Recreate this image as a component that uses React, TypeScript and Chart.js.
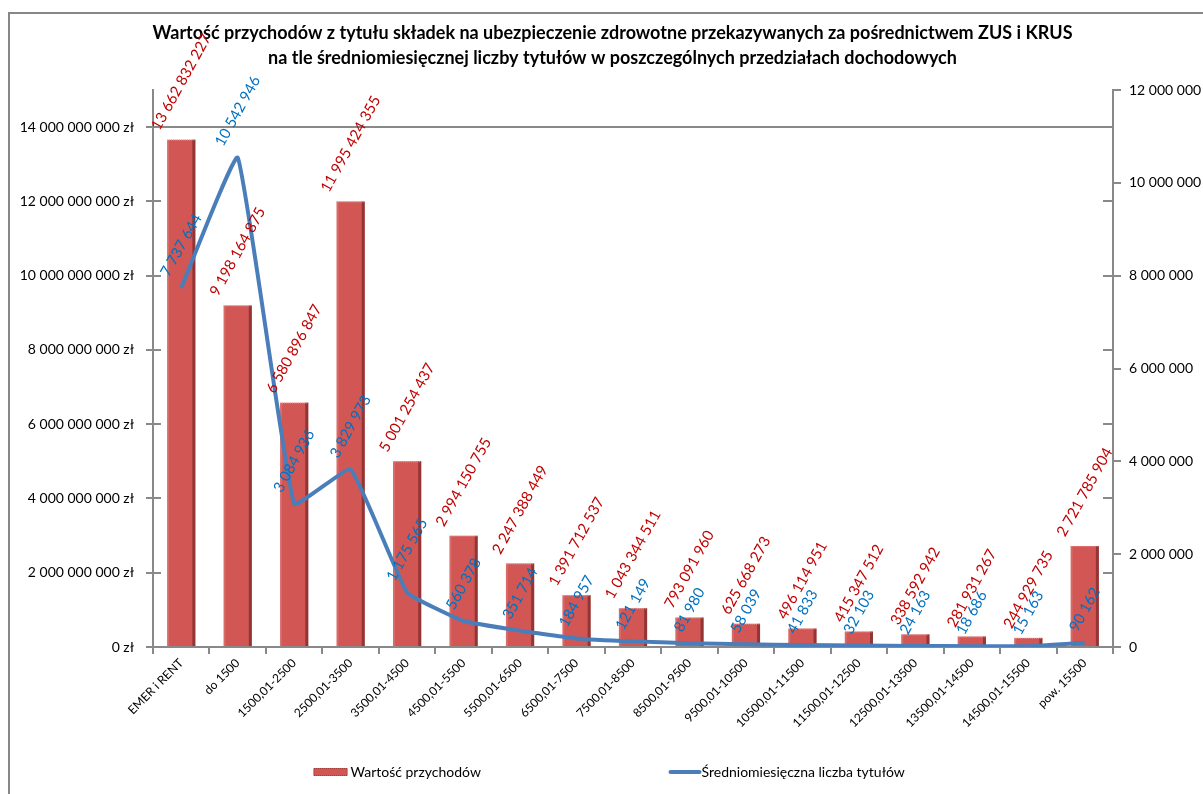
import React, { useEffect, useRef } from "react";
import { Chart, registerables } from "chart.js";

Chart.register(...registerables);

const titleLines = [
  "Wartość przychodów z tytułu składek na ubezpieczenie zdrowotne przekazywanych za pośrednictwem ZUS i KRUS",
  "na tle średniomiesięcznej liczby tytułów w poszczególnych przedziałach dochodowych",
];

const categories = [
  "EMER i RENT",
  "do 1500",
  "1500,01-2500",
  "2500,01-3500",
  "3500,01-4500",
  "4500,01-5500",
  "5500,01-6500",
  "6500,01-7500",
  "7500,01-8500",
  "8500,01-9500",
  "9500,01-10500",
  "10500,01-11500",
  "11500,01-12500",
  "12500,01-13500",
  "13500,01-14500",
  "14500,01-15500",
  "pow. 15500",
];

const revenue = [
  13662832227, 9198164875, 6580896847, 11995424355, 5001254437, 2994150755, 2247388449,
  1391712537, 1043344511, 793091960, 625668273, 496114951, 415347512, 338592942, 281931267,
  244929735, 2721785904,
];

const titlesCount = [
  7737644, 10542946, 3084936, 3829973, 1175565, 560378, 351714, 184957, 121149, 81980, 58039,
  41833, 32103, 24163, 18686, 15163, 90162,
];

const legendLabels = ["Wartość przychodów", "Średniomiesięczna liczba tytułów"];

const leftMax = 15000000000;
const leftStep = 2000000000;
const leftGridValue = 14000000000;
const rightMax = 12000000;
const rightStep = 2000000;

const FONT = "Lato, 'Noto Sans', sans-serif";
const AXIS_COLOR = "#898989";
const BAR_COLOR = "#D25754";
const LINE_COLOR = "#4A7EBB";
const RED_LABEL = "#C00000";
const BLUE_LABEL = "#0070C0";

const fmt = (v: number) => Math.round(v).toString().replace(/\B(?=(\d{3})+(?!\d))/g, " ");

const axisDecor = {
  id: "axisDecor",
  beforeDatasetsDraw(chart: any) {
    const ctx = chart.ctx;
    const { left, right } = chart.chartArea;
    const ys = chart.scales.y;
    ctx.save();
    ctx.strokeStyle = AXIS_COLOR;
    ctx.lineWidth = 2;
    ys.ticks.forEach((t: any) => {
      const py = Math.round(ys.getPixelForValue(t.value));
      ctx.beginPath();
      ctx.moveTo(left, py);
      ctx.lineTo(left + 8, py);
      ctx.moveTo(right - 10, py);
      ctx.lineTo(right, py);
      ctx.stroke();
    });
    ctx.restore();
  },
};

const barShade = {
  id: "barShade",
  afterDatasetDraw(chart: any, args: any) {
    if (args.index !== 0) return;
    const ctx = chart.ctx;
    ctx.save();
    args.meta.data.forEach((el: any) => {
      const r = el.x + el.width / 2;
      const l = el.x - el.width / 2;
      const h = el.base - el.y;
      ctx.fillStyle = "rgba(95,25,25,0.55)";
      ctx.fillRect(r - 3, el.y, 3, h);
      ctx.fillStyle = "rgba(255,255,255,0.12)";
      ctx.fillRect(l, el.y, 2, h);
      ctx.strokeStyle = "rgba(230,150,150,0.9)";
      ctx.setLineDash([1, 1]);
      ctx.lineWidth = 1;
      ctx.beginPath();
      ctx.moveTo(l, el.y + 0.5);
      ctx.lineTo(r, el.y + 0.5);
      ctx.stroke();
    });
    ctx.restore();
  },
};

const valueLabels = {
  id: "valueLabels",
  afterDatasetsDraw(chart: any) {
    const ctx = chart.ctx;
    const ang = (61 * Math.PI) / 180;
    const draw = (dsIndex: number, values: number[], color: string, gap: number) => {
      const meta = chart.getDatasetMeta(dsIndex);
      meta.data.forEach((el: any, i: number) => {
        const text = fmt(values[i]);
        ctx.save();
        ctx.font = `15px ${FONT}`;
        const w = ctx.measureText(text).width;
        const h = 11;
        const boxH = w * Math.sin(ang) + h * Math.cos(ang);
        const cy = el.y - gap - boxH / 2;
        ctx.translate(el.x, cy);
        ctx.rotate(-ang);
        ctx.fillStyle = color;
        ctx.textAlign = "center";
        ctx.textBaseline = "middle";
        ctx.fillText(text, 0, 0);
        ctx.restore();
      });
    };
    draw(0, revenue, RED_LABEL, 8);
    draw(1, titlesCount, BLUE_LABEL, 10);
  },
};

const customLegend = {
  id: "customLegend",
  afterDraw(chart: any) {
    const ctx = chart.ctx;
    const cx = chart.width / 2;
    const y = chart.height - 22;
    ctx.save();
    ctx.font = `14px ${FONT}`;
    ctx.textBaseline = "middle";
    ctx.textAlign = "left";
    const s1 = cx - 299;
    ctx.fillStyle = BAR_COLOR;
    ctx.fillRect(s1, y - 4, 34, 8);
    ctx.strokeStyle = "#A33E3B";
    ctx.lineWidth = 1;
    ctx.setLineDash([1, 1]);
    ctx.strokeRect(s1 + 0.5, y - 3.5, 33, 7);
    ctx.setLineDash([]);
    ctx.fillStyle = "#000";
    ctx.fillText(legendLabels[0], s1 + 37, y);
    const s2 = cx + 56;
    ctx.strokeStyle = LINE_COLOR;
    ctx.lineWidth = 4;
    ctx.lineCap = "round";
    ctx.beginPath();
    ctx.moveTo(s2 + 2, y);
    ctx.lineTo(s2 + 31, y);
    ctx.stroke();
    ctx.fillStyle = "#000";
    ctx.fillText(legendLabels[1], s2 + 33, y);
    ctx.restore();
  },
};

export default function App() {
  const ref = useRef<HTMLCanvasElement | null>(null);

  useEffect(() => {
    if (!ref.current) return;
    const chart = new Chart(ref.current, {
      type: "bar",
      data: {
        labels: categories,
        datasets: [
          {
            type: "bar",
            label: legendLabels[0],
            data: revenue,
            backgroundColor: BAR_COLOR,
            yAxisID: "y",
            barPercentage: 0.5,
            categoryPercentage: 1,
            order: 2,
          },
          {
            type: "line",
            label: legendLabels[1],
            data: titlesCount,
            borderColor: LINE_COLOR,
            backgroundColor: LINE_COLOR,
            borderWidth: 4,
            pointRadius: 0,
            tension: 0.1,
            yAxisID: "y1",
            order: 1,
          },
        ],
      },
      options: {
        responsive: false,
        animation: false,
        devicePixelRatio: 1,
        layout: { padding: 0 },
        plugins: {
          legend: { display: false },
          tooltip: { enabled: false },
          title: {
            display: true,
            text: titleLines,
            color: "#000",
            font: { family: FONT, size: 18, weight: "bold", lineHeight: 1.4 },
            padding: { top: 6.4, bottom: 19.2 },
          },
        },
        scales: {
          x: {
            offset: true,
            grid: {
              offset: true,
              drawOnChartArea: false,
              drawTicks: true,
              tickLength: 7,
              color: AXIS_COLOR,
              lineWidth: 2,
            },
            border: { display: true, color: AXIS_COLOR, width: 2 },
            ticks: {
              autoSkip: false,
              maxRotation: 45,
              minRotation: 45,
              color: "#000",
              padding: 2,
              font: { family: FONT, size: 12 },
            },
            afterFit: (s: any) => {
              s.height = 147;
            },
          },
          y: {
            position: "left",
            min: 0,
            max: leftMax,
            grid: {
              color: (c: any) => (c.tick && c.tick.value === leftGridValue ? AXIS_COLOR : "rgba(0,0,0,0)"),
              tickColor: AXIS_COLOR,
              lineWidth: 2,
              tickLength: 7,
              drawTicks: true,
            },
            border: { display: true, color: AXIS_COLOR, width: 2 },
            ticks: {
              color: "#000",
              padding: 12,
              font: { family: FONT, size: 14 },
              callback: (v: any) => fmt(Number(v)) + " zł",
            },
            afterBuildTicks: (s: any) => {
              const t: any[] = [];
              for (let v = 0; v <= leftMax; v += leftStep) t.push({ value: v });
              s.ticks = t;
            },
            afterFit: (s: any) => {
              s.width = 143;
            },
          },
          y1: {
            position: "right",
            min: 0,
            max: rightMax,
            grid: {
              drawOnChartArea: false,
              color: AXIS_COLOR,
              lineWidth: 2,
              tickLength: 8,
              drawTicks: true,
            },
            border: { display: true, color: AXIS_COLOR, width: 2 },
            ticks: {
              stepSize: rightStep,
              color: "#000",
              padding: 8,
              font: { family: FONT, size: 14 },
              callback: (v: any) => fmt(Number(v)),
            },
            afterFit: (s: any) => {
              s.width = 102;
            },
          },
        },
      },
      plugins: [axisDecor, barShade, valueLabels, customLegend],
    } as any);
    return () => chart.destroy();
  }, []);

  return (
    <div
      style={{
        position: "fixed",
        left: 0,
        top: 0,
        width: 1203,
        height: 794,
        overflow: "hidden",
        background: "#fff",
      }}
    >
      <div
        style={{
          position: "absolute",
          left: 8,
          top: 12,
          width: 1215,
          height: 800,
          border: "2px solid #878787",
          boxSizing: "content-box",
        }}
      >
        <canvas ref={ref} width={1205} height={780} style={{ display: "block", width: 1205, height: 780 }} />
      </div>
    </div>
  );
}
